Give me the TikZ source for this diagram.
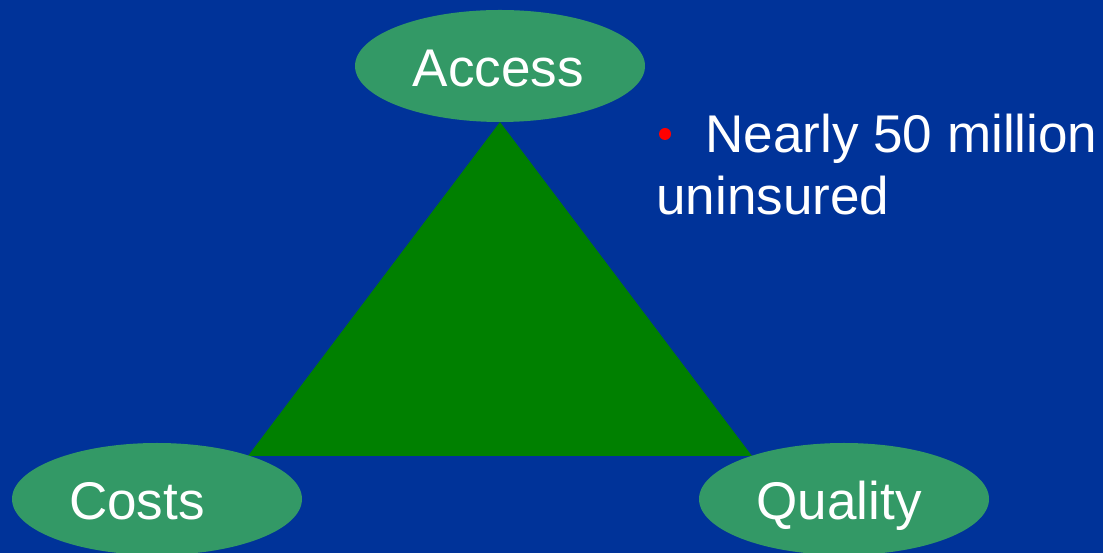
\documentclass[tikz,border=0pt]{standalone}
\usepackage{fontspec}
\setmainfont{Liberation Sans}
\usepackage{xcolor}
\usepackage{tikz}
\usetikzlibrary{shapes.geometric}

\definecolor{slideblue}{RGB}{0,51,153}
\definecolor{ovalgreen}{RGB}{51,153,102}
\definecolor{darkgreen}{RGB}{0,128,0}

\tikzset{
  oval/.style={ellipse,fill=ovalgreen,draw=none,minimum width=5.8cm,minimum height=2.24cm,inner sep=0pt},
  word/.style={text=white,inner sep=0pt,anchor=base,font=\fontsize{30.2}{36}\selectfont}
}

\begin{document}
\begin{tikzpicture}
\fill[slideblue] (0,0) rectangle (22.06,11.06);
\useasboundingbox (0,0) rectangle (22.06,11.06);
% the three corners
\coordinate (top) at (10.0,8.62);
\coordinate (left) at (4.96,1.94);
\coordinate (right) at (15.04,1.94);
\fill[darkgreen] (left) -- (right) -- (top) -- cycle;
\node[oval] (access) at (10.0,9.74) {};
\node[oval] (costs) at (3.14,1.08) {};
\node[oval] (quality) at (16.88,1.08) {};
\node[word] (accessText) at (9.97,9.32) {Access};
\node[word] (costsText) at (2.74,0.66) {Costs};
\node[word] (qualityText) at (16.78,0.66) {Quality};
% note beside the top corner
\fill[red] (13.3,8.38) circle (0.12);
\node[word,anchor=base west] (noteA) at (14.1,8.0) {Nearly 50 million};
\node[word,anchor=base west] (noteB) at (13.12,6.76) {uninsured};
\end{tikzpicture}
\end{document}
